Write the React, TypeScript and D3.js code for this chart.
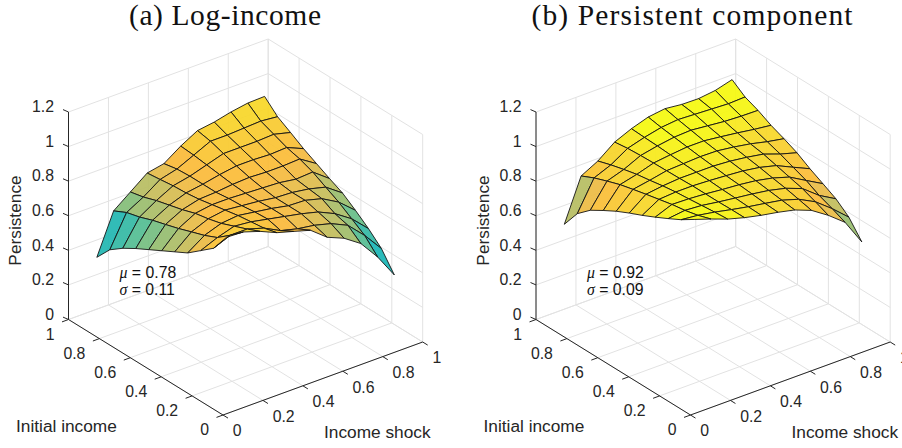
import React from "react";
import * as d3 from "d3";

const W = 902, H = 448;
const axisTicks = [0, 0.2, 0.4, 0.6, 0.8, 1];
const axisTickLabels = ["0", "0.2", "0.4", "0.6", "0.8", "1"];
const zTicks = [0, 0.2, 0.4, 0.6, 0.8, 1, 1.2];
const zTickLabels = ["0", "0.2", "0.4", "0.6", "0.8", "1", "1.2"];
const shockNodes = [0.08, 0.164, 0.248, 0.332, 0.416, 0.5, 0.584, 0.668, 0.752, 0.836, 0.92];
const incomeNodes = [0.92, 0.836, 0.752, 0.668, 0.584, 0.5, 0.416, 0.332, 0.248, 0.164, 0.08];

// rows: shock node, columns: income node (high to low)
const surfaceA = [
  [.37, .46, .515, .56, .60, .64, .68, .72, .78, .84, .95],
  [.603, .64, .66, .688, .71, .733, .76, .786, .82, .88, .945],
  [.677, .694, .72, .74, .76, .785, .80, .82, .85, .88, .913],
  [.751, .76, .77, .775, .785, .80, .815, .83, .84, .85, .87],
  [.77, .785, .79, .79, .79, .80, .805, .815, .82, .80, .842],
  [.836, .83, .82, .81, .80, .795, .795, .80, .80, .775, .813],
  [.89, .875, .85, .825, .805, .79, .78, .78, .78, .76, .737],
  [.904, .875, .85, .825, .80, .785, .775, .776, .755, .734, .696],
  [.927, .88, .85, .82, .80, .77, .76, .75, .71, .689, .63],
  [.943, .885, .855, .825, .805, .776, .735, .695, .645, .595, .517],
  [.946, .875, .83, .783, .743, .703, .666, .612, .553, .484, .377],
];
const surfaceB = [
  [.561, .669, .735, .78, .822, .858, .891, .927, .965, 1.005, 1.053],
  [.805, .84, .868, .894, .913, .931, .948, .965, .977, .995, 1.02],
  [.856, .88, .90, .918, .93, .944, .955, .962, .97, .978, .984],
  [.93, .94, .945, .948, .95, .952, .955, .955, .955, .957, .957],
  [.972, .968, .965, .96, .955, .952, .95, .945, .942, .938, .935],
  [1.004, .99, .98, .97, .96, .952, .943, .937, .93, .922, .917],
  [1.017, 1.0, .985, .97, .958, .945, .935, .925, .915, .905, .895],
  [1.006, .995, .975, .958, .945, .932, .92, .905, .892, .875, .857],
  [1.004, .99, .965, .945, .928, .915, .895, .875, .855, .825, .793],
  [1.016, .985, .96, .93, .905, .88, .85, .82, .78, .75, .717],
  [1.043, .989, .958, .918, .887, .852, .806, .766, .725, .665, .568],
];

const colorZ = [0.5, 0.57, 0.62, 0.67, 0.72, 0.77, 0.80, 0.87, 0.93, 0.98];
const colorHex = ["#1bb6b6", "#35b9a5", "#60be8c", "#95bd70", "#b8bd62", "#e8bc48", "#fbb93a", "#f9cc2e", "#f8dc26", "#f5f90f"];
const color = d3.scaleLinear<string>().domain(colorZ).range(colorHex).clamp(true);

const xOf = {
  s: d3.scaleLinear().domain([0, 1]).range([0, 199.7]),
  i: d3.scaleLinear().domain([0, 1]).range([0, -154.5]),
};
const yOf = {
  s: d3.scaleLinear().domain([0, 1]).range([0, -73]),
  i: d3.scaleLinear().domain([0, 1]).range([0, -95.5]),
  z: d3.scaleLinear().domain([0, 1.2]).range([0, -207.5]),
};
const ORIGIN: [number, number] = [223, 415];
const project = (s: number, i: number, z: number): [number, number] => [
  ORIGIN[0] + xOf.s(s) + xOf.i(i),
  ORIGIN[1] + yOf.s(s) + yOf.i(i) + yOf.z(z),
];
const seg = (a: [number, number], b: [number, number]) => `M${a[0]},${a[1]}L${b[0]},${b[1]}`;

const SANS = "'Liberation Sans', Arial, sans-serif";
const SERIF = "'Liberation Serif', serif";
const INK = "#262626";

function Panel({ dx, title, titleX, titleW, surface, mu, sigma }: any) {
  const grid: string[] = [];
  for (const t of axisTicks) {
    grid.push(seg(project(t, 0, 0), project(t, 1, 0)));
    grid.push(seg(project(0, t, 0), project(1, t, 0)));
    grid.push(seg(project(t, 1, 0), project(t, 1, 1.2)));
    grid.push(seg(project(1, t, 0), project(1, t, 1.2)));
  }
  for (const z of zTicks) {
    grid.push(seg(project(0, 1, z), project(1, 1, z)));
    grid.push(seg(project(1, 1, z), project(1, 0, z)));
  }
  const cells: { d: string; fill: string }[] = [];
  for (let j = shockNodes.length - 2; j >= 0; j--) {
    for (let k = 0; k < incomeNodes.length - 1; k++) {
      const cs: [number, number][] = [[j, k], [j + 1, k], [j + 1, k + 1], [j, k + 1]];
      const pts = cs.map(([a, b]) => project(shockNodes[a], incomeNodes[b], surface[a][b]));
      const zs = cs.map(([a, b]) => surface[a][b]);
      cells.push({ d: d3.line()(pts) + "Z", fill: color(d3.mean(zs) as number) });
    }
  }
  const ticks: string[] = [];
  for (const t of axisTicks) {
    const a = project(0, t, 0);
    ticks.push(seg(a, [a[0] - 6.5, a[1] + 2.4]));
    const b = project(t, 0, 0);
    ticks.push(seg(b, [b[0] + 5, b[1] + 3.1]));
  }
  for (const z of zTicks) {
    const a = project(0, 1, z);
    ticks.push(seg(a, [a[0] - 5.5, a[1] - 2.4]));
  }
  return (
    <g transform={`translate(${dx},0)`}>
      <path d={grid.join("")} fill="none" stroke="#e2e2e2" strokeWidth={1} />
      <g>
        {cells.map((c, n) => (
          <path key={n} d={c.d} fill={c.fill} fillOpacity={0.93} stroke="#141414" strokeWidth={0.9} strokeLinejoin="round" />
        ))}
      </g>
      <path
        d={seg(project(0, 1, 0), project(0, 1, 1.2)) + seg(project(0, 1, 0), project(0, 0, 0)) + seg(project(0, 0, 0), project(1, 0, 0)) + ticks.join("")}
        fill="none" stroke={INK} strokeWidth={1}
      />
      <g fontFamily={SANS} fontSize={15.8} fill={INK}>
        {zTicks.map((z, n) => {
          const p = project(0, 1, z);
          return <text key={n} x={54} y={p[1] - 5.5} dy="0.36em" textAnchor="end">{zTickLabels[n]}</text>;
        })}
        {axisTicks.map((t, n) => {
          const p = project(0, t, 0);
          return <text key={n} x={p[0] - 14} y={p[1] + 14.4} dy="0.36em" textAnchor="end">{axisTickLabels[n]}</text>;
        })}
        {axisTicks.map((t, n) => {
          const p = project(t, 0, 0);
          return <text key={n} x={p[0] + 9.7} y={p[1] + 15.7} dy="0.36em">{axisTickLabels[n]}</text>;
        })}
      </g>
      <g fontFamily={SANS} fontSize={17.3} fill={INK}>
        <text x={16} y={432}>Initial income</text>
        <text x={324} y={438}>Income shock</text>
        <text transform="translate(21,220.5) rotate(-90)" textAnchor="middle">Persistence</text>
      </g>
      <g fontFamily={SANS} fontSize={15.8} fill="#111">
        <text x={119.5} y={277.5}><tspan fontFamily={SERIF} fontStyle="italic">μ</tspan> = {mu}</text>
        <text x={119.5} y={295}><tspan fontFamily={SERIF} fontStyle="italic">σ</tspan> = {sigma}</text>
      </g>
      <text x={titleX} y={25} fontFamily={SERIF} fontSize={29.5} fill="#111" textLength={titleW} lengthAdjust="spacing">{title}</text>
    </g>
  );
}

export default function App() {
  return (
    <svg width={W} height={H} viewBox={`0 0 ${W} ${H}`} style={{ position: "fixed", left: 0, top: 0, background: "#fff" }}>
      <Panel dx={0} title="(a) Log-income" titleX={129} titleW={192} surface={surfaceA} mu="0.78" sigma="0.11" />
      <Panel dx={467.5} title="(b) Persistent component" titleX={64} titleW={321} surface={surfaceB} mu="0.92" sigma="0.09" />
    </svg>
  );
}
